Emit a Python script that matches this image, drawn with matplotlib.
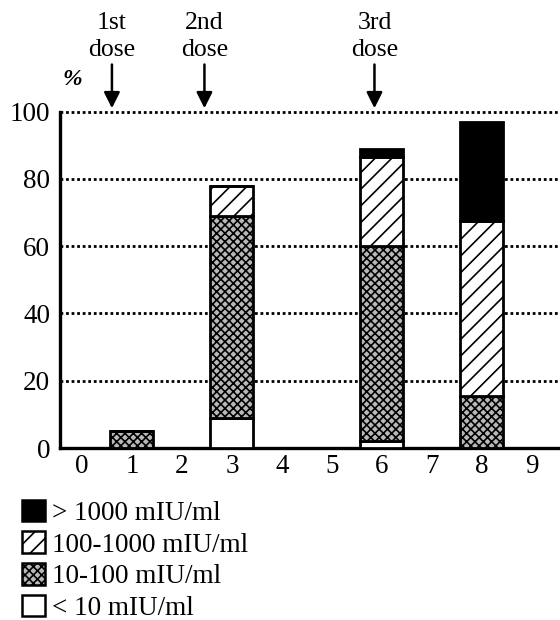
import matplotlib
matplotlib.use("Agg")
import matplotlib.pyplot as plt
from matplotlib.patches import Patch

plt.rcParams['font.family'] = ['Liberation Serif', 'DejaVu Serif']
plt.rcParams['hatch.linewidth'] = 1.2

# months after first dose
months = [1, 3, 6, 8]
# share of subjects (%) in each antibody class, stacked from the bottom
lt10 = [0, 9, 2, 0]
r10_100 = [5, 60, 58, 15.5]
r100_1000 = [0, 9, 26.5, 52]
gt1000 = [0, 0, 2.5, 29.5]

tick_labels = ['0', '1', '2', '3', '4', '5', '6', '7', '8', '9']
class_labels = ['> 1000 mIU/ml', '100-1000 mIU/ml', '10-100 mIU/ml', '< 10 mIU/ml']

doses = ['1st\ndose', '2nd\ndose', '3rd\ndose']
dose_x = [0.6, 2.45, 5.85]

fig = plt.figure(figsize=(5.6, 6.2), dpi=100)
ax = fig.add_axes([0.107, 0.2774, 0.893, 0.548])

w = 0.86
b1 = [a for a in lt10]
b2 = [a + b for a, b in zip(b1, r10_100)]
b3 = [a + b for a, b in zip(b2, r100_1000)]
stip = '#b8b8b8'

ax.bar(months, lt10, w, color='white', edgecolor='black', lw=2, zorder=3)
ax.bar(months, r10_100, w, bottom=b1, color=stip, edgecolor='black',
       hatch='xxxx', lw=2, zorder=3)
ax.bar(months, r100_1000, w, bottom=b2, color='white', edgecolor='black',
       hatch='//', lw=2, zorder=3)
ax.bar(months, gt1000, w, bottom=b3, color='black', edgecolor='black', lw=2, zorder=3)

ax.set_xlim(-0.44, 9.56)
ax.set_ylim(0, 101)
ax.set_yticks([0, 20, 40, 60, 80, 100])
ax.set_xticks(range(10))
ax.set_xticklabels(tick_labels)
ax.tick_params(length=0, labelsize=19.5, pad=4)
ax.tick_params(axis='y', pad=7)
for y in [20, 40, 60, 80, 100]:
    ax.axhline(y, color='black', ls=(0, (1, 1)), lw=2, zorder=1, clip_on=False)

for s in ['top', 'right']:
    ax.spines[s].set_visible(False)
ax.spines['left'].set_linewidth(2.4)
ax.spines['bottom'].set_linewidth(2.4)
ax.spines['left'].set_bounds(0, 100)

ax.text(0.025, 1.085, '%', transform=ax.transAxes, fontsize=17,
        fontstyle='italic', fontweight='bold', ha='center', va='center')

for x, t in zip(dose_x, doses):
    ax.annotate('', xy=(x, 101), xytext=(x, 114), annotation_clip=False,
                arrowprops=dict(arrowstyle='-|>', color='black', lw=1.8,
                                mutation_scale=24, shrinkA=0, shrinkB=0))
    ax.text(x, 115, t, ha='center', va='bottom', fontsize=18.5,
            linespacing=1.3, clip_on=False)

handles = [Patch(facecolor='black', edgecolor='black', lw=1.8),
           Patch(facecolor='white', edgecolor='black', hatch='//', lw=1.8),
           Patch(facecolor=stip, edgecolor='black', hatch='xxxx', lw=1.8),
           Patch(facecolor='white', edgecolor='black', lw=1.8)]
fig.legend(handles, class_labels, loc='upper left', bbox_to_anchor=(0.01, 0.22),
           frameon=False, fontsize=19.5, handlelength=0.85, handleheight=0.85,
           handletextpad=0.25, labelspacing=0.2, borderaxespad=0.2)

fig.savefig('out.png', dpi=100)
